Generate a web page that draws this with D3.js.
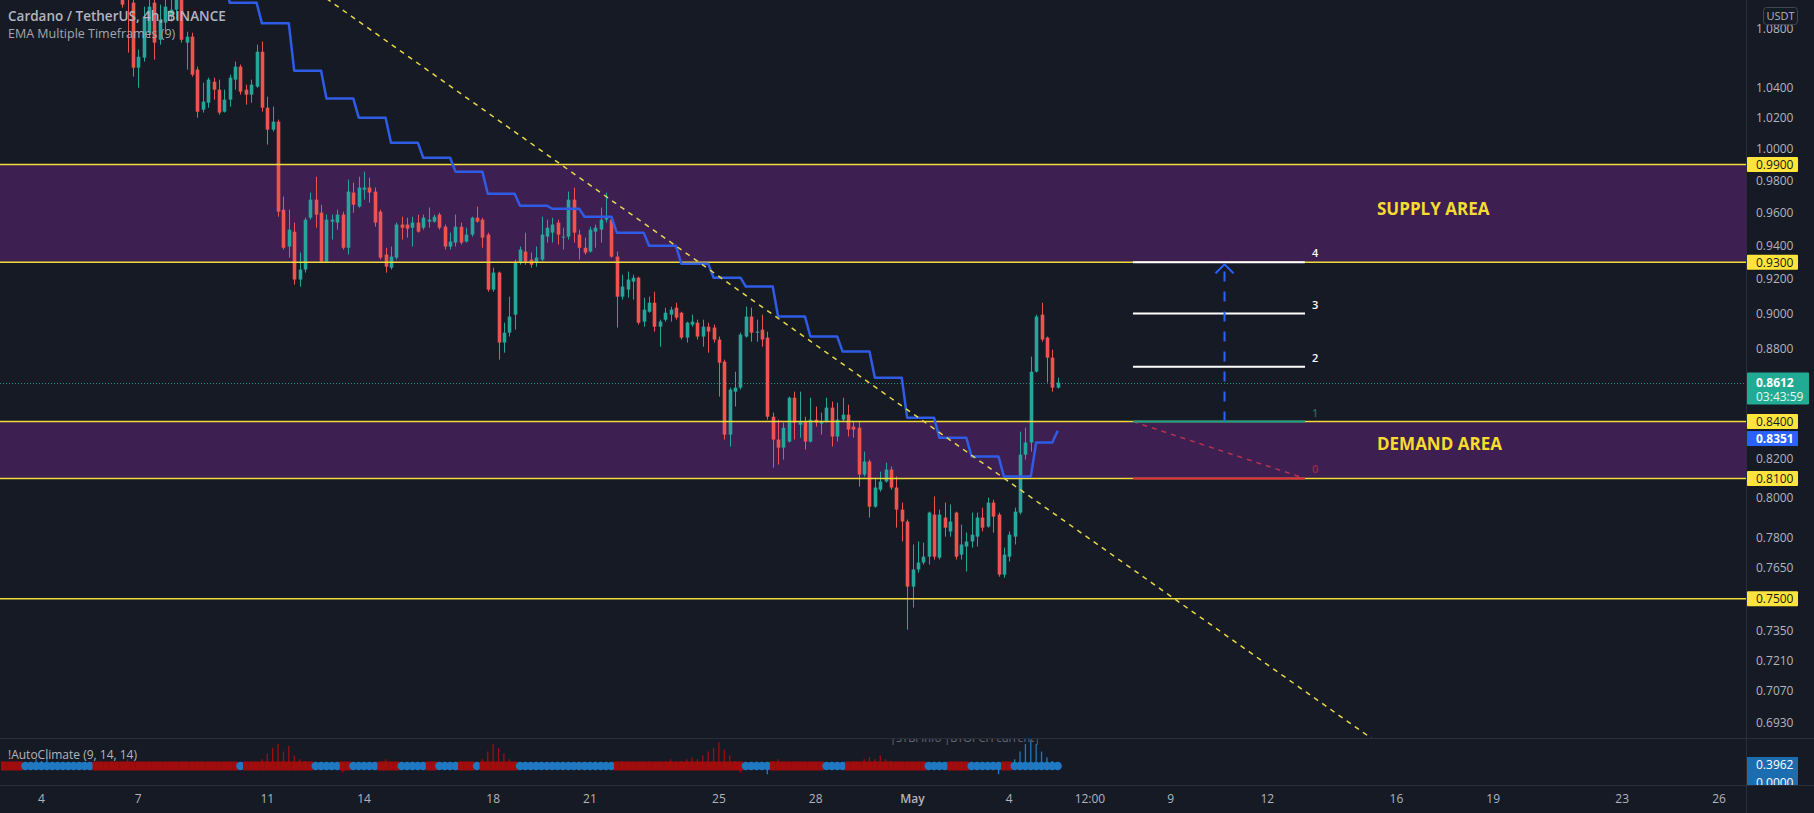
<!DOCTYPE html>
<html><head><meta charset="utf-8">
<script src="https://cdn.jsdelivr.net/npm/d3@7"></script>
<style>
html,body{margin:0;padding:0;background:#161a25;overflow:hidden}
svg{display:block}
text{font-family:"Open Sans",Roboto,sans-serif}
</style></head><body>
<svg id="chart" width="1814" height="813"></svg>
<script>
// ---------------- DATA ----------------
const candleStart = "2022-04-06T12:00:00Z";   // first visible 4h candle
const opens  = [1.1035,1.1142,1.0979,1.0532,1.0600,1.0770,1.0979,1.0722,1.0840,1.0881,1.0930,1.1000,1.0702,1.0743,1.0519,1.0253,1.0299,1.0438,1.0385,1.0240,1.0319,1.0452,1.0539,1.0385,1.0352,1.0405,1.0640,1.0266,1.0123,1.0175,0.9618,0.9394,0.9484,0.9198,0.9257,0.9569,0.9680,0.9600,0.9304,0.9545,0.9539,0.9588,0.9387,0.9724,0.9637,0.9742,0.9755,0.9730,0.9606,0.9346,0.9268,0.9328,0.9527,0.9527,0.9508,0.9539,0.9508,0.9545,0.9545,0.9588,0.9514,0.9394,0.9418,0.9514,0.9424,0.9466,0.9569,0.9557,0.9466,0.9139,0.9239,0.8835,0.8891,0.8994,0.9298,0.9364,0.9316,0.9298,0.9316,0.9454,0.9478,0.9539,0.9448,0.9454,0.9680,0.9466,0.9387,0.9364,0.9484,0.9496,0.9557,0.9557,0.9334,0.9098,0.9139,0.9186,0.9209,0.8954,0.9011,0.9063,0.8925,0.8965,0.8994,0.9034,0.9005,0.8863,0.8937,0.8948,0.8869,0.8925,0.8920,0.8852,0.8728,0.8330,0.8562,0.8584,0.8869,0.8983,0.8891,0.8908,0.8863,0.8426,0.8304,0.8261,0.8293,0.8529,0.8383,0.8399,0.8293,0.8410,0.8389,0.8399,0.8475,0.8320,0.8410,0.8437,0.8373,0.8367,0.8120,0.8188,0.7955,0.8042,0.8084,0.8146,0.8053,0.7940,0.7880,0.7559,0.7642,0.7676,0.7705,0.7915,0.7700,0.7900,0.7830,0.7925,0.7715,0.7755,0.7780,0.7804,0.7900,0.7854,0.7976,0.7915,0.7617,0.7705,0.7804,0.7925,0.8224,0.8288,0.8672,0.8994,0.8863,0.8750,0.8584];
const highs  = [1.1106,1.1213,1.1000,1.0654,1.0951,1.1000,1.1035,1.0965,1.1000,1.1071,1.1071,1.1035,1.0777,1.0770,1.0539,1.0432,1.0465,1.0465,1.0452,1.0385,1.0485,1.0573,1.0553,1.0418,1.0452,1.0688,1.0709,1.0339,1.0273,1.0188,0.9699,0.9618,0.9539,0.9358,0.9569,0.9724,0.9823,0.9649,0.9588,0.9588,0.9618,0.9606,0.9805,0.9786,0.9823,0.9855,0.9817,0.9755,0.9618,0.9387,0.9394,0.9539,0.9575,0.9569,0.9575,0.9588,0.9588,0.9631,0.9588,0.9600,0.9527,0.9478,0.9588,0.9539,0.9508,0.9575,0.9637,0.9569,0.9478,0.9268,0.9245,0.8948,0.9098,0.9316,0.9394,0.9478,0.9358,0.9394,0.9575,0.9557,0.9569,0.9557,0.9508,0.9730,0.9755,0.9496,0.9448,0.9514,0.9527,0.9631,0.9724,0.9575,0.9364,0.9227,0.9245,0.9227,0.9215,0.9092,0.9098,0.9127,0.8965,0.9034,0.9040,0.9063,0.9011,0.8954,0.8994,0.8965,0.8965,0.8948,0.8937,0.8869,0.8739,0.8584,0.8672,0.8891,0.9040,0.9034,0.8965,0.8994,0.8897,0.8448,0.8410,0.8394,0.8535,0.8562,0.8562,0.8426,0.8529,0.8481,0.8448,0.8529,0.8508,0.8502,0.8529,0.8491,0.8399,0.8399,0.8240,0.8198,0.8104,0.8135,0.8182,0.8162,0.8110,0.7976,0.7890,0.7765,0.7780,0.7775,0.7930,0.8007,0.7940,0.7976,0.7966,0.7930,0.7864,0.7825,0.7925,0.7925,0.7950,0.8001,0.7991,0.7925,0.7750,0.7830,0.7950,0.8346,0.8367,0.8756,0.8994,0.9063,0.8869,0.8795,0.8639];
const lows   = [1.0944,1.0634,1.0472,1.0398,1.0573,1.0736,1.0586,1.0688,1.0770,1.0847,1.0860,1.0702,1.0519,1.0472,1.0201,1.0234,1.0266,1.0319,1.0220,1.0234,1.0273,1.0385,1.0352,1.0286,1.0299,1.0398,1.0240,1.0027,1.0110,0.9575,0.9376,0.9328,0.9168,0.9157,0.9239,0.9557,0.9508,0.9298,0.9298,0.9436,0.9496,0.9376,0.9346,0.9600,0.9631,0.9680,0.9662,0.9514,0.9316,0.9239,0.9257,0.9316,0.9436,0.9448,0.9394,0.9478,0.9496,0.9508,0.9539,0.9496,0.9376,0.9376,0.9394,0.9406,0.9418,0.9454,0.9539,0.9387,0.9127,0.9127,0.8739,0.8778,0.8869,0.8908,0.9286,0.9286,0.9268,0.9274,0.9304,0.9418,0.9418,0.9406,0.9376,0.9436,0.9418,0.9316,0.9346,0.9358,0.9387,0.9418,0.9539,0.9328,0.8920,0.9081,0.9092,0.9081,0.8937,0.8925,0.9005,0.8897,0.8812,0.8954,0.8954,0.8965,0.8852,0.8835,0.8925,0.8852,0.8812,0.8778,0.8835,0.8535,0.8304,0.8267,0.8481,0.8573,0.8863,0.8840,0.8840,0.8812,0.8410,0.8156,0.8172,0.8198,0.8288,0.8304,0.8314,0.8251,0.8288,0.8373,0.8330,0.8394,0.8267,0.8293,0.8399,0.8320,0.8314,0.8058,0.8110,0.7900,0.7950,0.8032,0.8079,0.8042,0.7849,0.7780,0.7354,0.7458,0.7627,0.7666,0.7666,0.7691,0.7691,0.7804,0.7804,0.7691,0.7691,0.7632,0.7750,0.7755,0.7830,0.7849,0.7824,0.7607,0.7602,0.7681,0.7765,0.7915,0.8198,0.8240,0.8667,0.8840,0.8612,0.8562,0.8579];
const closes = [1.0965,1.1014,1.0532,1.0606,1.0881,1.0951,1.0702,1.0860,1.0951,1.0930,1.1021,1.0722,1.0743,1.0485,1.0240,1.0306,1.0452,1.0385,1.0234,1.0319,1.0465,1.0539,1.0372,1.0352,1.0418,1.0640,1.0266,1.0123,1.0175,0.9606,0.9387,0.9496,0.9198,0.9257,0.9557,0.9680,0.9588,0.9304,0.9557,0.9557,0.9588,0.9387,0.9730,0.9649,0.9755,0.9755,0.9724,0.9539,0.9328,0.9274,0.9334,0.9527,0.9508,0.9502,0.9539,0.9484,0.9569,0.9557,0.9575,0.9508,0.9394,0.9424,0.9514,0.9418,0.9466,0.9569,0.9545,0.9448,0.9139,0.9239,0.8835,0.8891,0.8983,0.9298,0.9376,0.9304,0.9286,0.9328,0.9466,0.9508,0.9527,0.9466,0.9454,0.9680,0.9478,0.9387,0.9358,0.9496,0.9508,0.9557,0.9569,0.9334,0.9098,0.9157,0.9198,0.9209,0.8948,0.9023,0.9063,0.8925,0.8954,0.9005,0.9023,0.8977,0.8863,0.8948,0.8954,0.8869,0.8925,0.8897,0.8852,0.8722,0.8330,0.8573,0.8584,0.8880,0.8983,0.8891,0.8897,0.8852,0.8426,0.8304,0.8261,0.8367,0.8529,0.8394,0.8399,0.8293,0.8410,0.8394,0.8399,0.8475,0.8320,0.8410,0.8437,0.8357,0.8357,0.8120,0.8188,0.7955,0.8053,0.8084,0.8146,0.8053,0.7940,0.7880,0.7559,0.7642,0.7676,0.7705,0.7925,0.7705,0.7915,0.7849,0.7880,0.7705,0.7765,0.7780,0.7814,0.7900,0.7849,0.7976,0.7905,0.7617,0.7715,0.7814,0.7930,0.8224,0.8288,0.8672,0.8983,0.8852,0.8750,0.8584,0.8612];

// EMA (daily, 9) stepped on the 4h chart: one value per day, first applies from candle #15
const emaFirstCandle = 14;
const emaDaily = [1.1177,1.0979,1.0835,1.0512,1.0326,1.0201,1.0039,0.9943,0.9855,0.9717,0.9643,0.9624,0.9575,0.9478,0.9399,0.9292,0.9209,0.9157,0.8983,0.8869,0.8784,0.8639,0.8421,0.8314,0.8214,0.8110,0.8288];
const emaLive = 0.8351;
const lastPrice = 0.8612;
const countdown = "03:43:59";

// horizontal levels and zones
const levelLines = [0.99, 0.93, 0.84, 0.81, 0.75];
const supplyZone = [0.93, 0.99];
const demandZone = [0.81, 0.84];

// trend line anchors
const trendTimes  = ["2022-04-14T00:00:00Z", "2022-05-12T00:00:00Z"];
const trendPrices = [1.0822, 0.7191];

// target projection drawing
const targetTimes  = ["2022-05-07T20:00:00Z", "2022-05-13T04:00:00Z"];
const arrowTime    = "2022-05-10T16:00:00Z";
const targetLevels = [0.81, 0.84, 0.87, 0.90, 0.93];
const targetLabels = ["0", "1", "2", "3", "4"];

// price axis ticks
const priceTicks = [1.08,1.04,1.02,1.00,0.98,0.96,0.94,0.92,0.90,0.88,0.82,0.80,0.78,0.765,0.735,0.721,0.707,0.693];

// time axis ticks
const timeTickDates  = ["2022-04-04","2022-04-07","2022-04-11","2022-04-14","2022-04-18","2022-04-21","2022-04-25","2022-04-28","2022-05-01","2022-05-04","2022-05-06T12:00","2022-05-09","2022-05-12","2022-05-16","2022-05-19","2022-05-23","2022-05-26"];
const timeTickLabels = ["4","7","11","14","18","21","25","28","May","4","12:00","9","12","16","19","23","26"];

// AutoClimate indicator
const climateStart = "2022-04-02T20:00:00Z";
const climateRuns = [["r",4],["b",13],["r",27],["b",1],["r",13],["b",5],["r",2],["b",5],["r",4],["b",5],["r",2],["b",4],["r",3],["b",1],["r",7],["b",18],["r",24],["b",5],["r",10],["b",4],["r",15],["b",4],["r",4],["b",6],["r",2],["b",9]];
const climateValues = [0.37,0.37,0.37,0.37,
 0.40,0.42,0.55,0.50,0.60,0.45,0.40,0.38,0.37,0.42,0.38,0.37,0.37,
 0.40,0.45,0.42,0.50,0.45,0.40,0.55,0.45,0.42,0.40,0.48,0.42,0.40,0.45,0.42,0.40,0.38,0.42,0.40,0.38,0.45,0.40,0.38,0.42,0.40,0.38,0.40,
 0.37,
 0.40,0.45,0.25,0.55,0.70,0.85,0.95,0.75,0.90,0.65,0.55,0.50,0.45,
 0.37,0.38,0.40,0.37,0.38,
 0.20,0.40,
 0.45,0.40,0.42,0.38,0.37,
 0.40,0.55,0.45,0.40,
 0.37,0.38,0.40,0.37,0.38,
 0.40,0.42,
 0.37,0.38,0.37,0.38,
 0.42,0.45,0.40,
 0.37,
 0.55,0.75,0.95,0.85,0.70,0.55,0.45,
 0.37,0.40,0.45,0.40,0.42,0.45,0.40,0.38,0.42,0.40,0.38,0.37,0.38,0.37,0.37,0.38,0.37,0.37,
 0.45,0.50,0.42,0.48,0.45,0.40,0.50,0.45,0.42,0.48,0.55,0.45,0.50,0.55,0.60,0.55,0.65,0.75,0.85,1.00,0.80,0.65,0.50,0.20,
 0.37,0.40,0.38,0.37,0.15,
 0.50,0.55,0.48,0.45,0.50,0.42,0.45,0.40,0.42,0.40,
 0.37,0.38,0.37,0.38,
 0.45,0.50,0.48,0.55,0.60,0.55,0.65,0.55,0.50,0.45,0.48,0.42,0.45,0.40,0.42,
 0.37,0.40,0.38,0.37,
 0.42,0.45,0.40,0.42,
 0.38,0.40,0.45,0.40,0.42,0.15,
 0.42,0.45,
 0.55,0.75,0.95,1.05,0.95,0.75,0.60,0.50,0.3962];
const climateBase = 0.37;

// ---------------- LAYOUT ----------------
const W = 1814, H = 813;
const plotR = 1746, mainB = 738, indB = 785;
const C = {bg:"#161a25", up:"#26a69a", down:"#ef5350", purple:"#3e1f52", yellow:"#f2dc3a",
           yellowLbl:"#ffe53b", axis:"#b2b5be", sep:"#2a2e39", ema:"#2f5ce6"};
const H4 = 4*3600*1000;

const svg = d3.select("#chart");
svg.append("rect").attr("width",W).attr("height",H).attr("fill",C.bg);

const defs = svg.append("defs");
defs.append("clipPath").attr("id","mainClip").append("rect").attr("x",0).attr("y",0).attr("width",plotR).attr("height",mainB);
defs.append("clipPath").attr("id","indClip").append("rect").attr("x",0).attr("y",mainB+1).attr("width",plotR).attr("height",indB-mainB-1);
defs.append("clipPath").attr("id","indAxisClip").append("rect").attr("x",plotR).attr("y",mainB+1).attr("width",W-plotR).attr("height",indB-mainB-1);

const x = d3.scaleTime()
  .domain([new Date("2022-04-04T00:00:00Z"), new Date("2022-05-26T00:00:00Z")])
  .range([41.5, 1719]);
const y = d3.scaleLog().domain([0.99, 0.693]).range([164.5, 722.5]);
const yi = d3.scaleLinear().domain([0, 0.3962]).range([780, 765]);

const t0 = new Date(candleStart).getTime();
const candles = opens.map((o,i)=>({t:new Date(t0+i*H4), o, h:highs[i], l:lows[i], c:closes[i]}));

const main = svg.append("g").attr("clip-path","url(#mainClip)");

// zones
[supplyZone, demandZone].forEach(z=>{
  main.append("rect").attr("x",0).attr("width",plotR)
    .attr("y",y(z[1])).attr("height",y(z[0])-y(z[1])).attr("fill",C.purple);
});

// current price dotted line
main.append("line").attr("x1",0).attr("x2",plotR).attr("y1",Math.round(y(lastPrice))+0.5).attr("y2",Math.round(y(lastPrice))+0.5)
  .attr("stroke",C.up).attr("stroke-width",1).attr("stroke-dasharray","1,2").attr("opacity",0.85);

// candles
const cg = main.append("g");
candles.forEach(d=>{
  const cx = Math.round(x(d.t))+0.5;
  const col = d.c >= d.o ? C.up : C.down;
  cg.append("line").attr("x1",cx).attr("x2",cx).attr("y1",y(d.h)).attr("y2",y(d.l)).attr("stroke",col).attr("stroke-width",1);
  const top = y(Math.max(d.o,d.c)), bot = y(Math.min(d.o,d.c));
  cg.append("rect").attr("x",cx-1.8).attr("width",3.6).attr("y",top).attr("height",Math.max(1,bot-top)).attr("fill",col);
});

// level lines
levelLines.forEach(v=>{
  main.append("line").attr("x1",0).attr("x2",plotR).attr("y1",y(v)).attr("y2",y(v))
    .attr("stroke",C.yellow).attr("stroke-width",1.5);
});

// EMA stepped line
const emaPts = [];
candles.forEach((d,i)=>{
  if(i < emaFirstCandle) return;
  let v;
  if(i === candles.length-1) v = emaLive;
  else { const g = Math.floor((i-emaFirstCandle)/6); v = emaDaily[Math.min(g, emaDaily.length-1)]; }
  emaPts.push([x(d.t), y(v)]);
});
main.append("path").attr("d", d3.line()(emaPts)).attr("fill","none")
  .attr("stroke",C.ema).attr("stroke-width",2.5).attr("stroke-linejoin","round");

// trend line (extended)
const tA = [x(new Date(trendTimes[0])), y(trendPrices[0])];
const tB = [x(new Date(trendTimes[1])), y(trendPrices[1])];
const slope = (tB[1]-tA[1])/(tB[0]-tA[0]);
main.append("line").attr("x1",0).attr("y1",tA[1]+(0-tA[0])*slope)
  .attr("x2",plotR).attr("y2",tA[1]+(plotR-tA[0])*slope)
  .attr("stroke","#e6d74a").attr("stroke-width",1.5).attr("stroke-dasharray","5,5");

// target projection
const xL = x(new Date(targetTimes[0])), xR = x(new Date(targetTimes[1])), xA = Math.round(x(new Date(arrowTime)))+0.5;
main.append("line").attr("x1",xL).attr("y1",y(targetLevels[1])).attr("x2",xR).attr("y2",y(targetLevels[0]))
  .attr("stroke","#b8324f").attr("stroke-width",1.5).attr("stroke-dasharray","5,5");
const tColors = ["#e0333f","#18a08a","#ffffff","#ffffff","#ffffff"];
const tLblColors = ["#9c2a48","#146e62","#ffffff","#ffffff","#ffffff"];
targetLevels.forEach((v,i)=>{
  main.append("line").attr("x1",xL).attr("x2",xR).attr("y1",y(v)).attr("y2",y(v))
    .attr("stroke",tColors[i]).attr("stroke-width",2);
  main.append("text").attr("x",xR+7).attr("y",y(v)-5).text(targetLabels[i])
    .attr("fill",tLblColors[i]).attr("font-size",11).attr("font-weight",600);
});
main.append("line").attr("x1",xA).attr("x2",xA).attr("y1",y(targetLevels[1])).attr("y2",y(targetLevels[4])+4)
  .attr("stroke","#2962ff").attr("stroke-width",2).attr("stroke-dasharray","10,10");
const ay = y(targetLevels[4]);
main.append("path").attr("d",`M${xA-9},${ay+11} L${xA},${ay+2} L${xA+9},${ay+11}`)
  .attr("fill","none").attr("stroke","#2962ff").attr("stroke-width",2);

// zone labels
main.append("text").attr("x",1377).attr("y",(y(supplyZone[0])+y(supplyZone[1]))/2+2).text("SUPPLY AREA")
  .attr("fill","#f5dc2e").attr("font-size",17).attr("font-weight",700);
main.append("text").attr("x",1377).attr("y",(y(demandZone[0])+y(demandZone[1]))/2).text("DEMAND AREA")
  .attr("fill","#f5dc2e").attr("font-size",17).attr("font-weight",700);

// legend
svg.append("text").attr("x",8).attr("y",21).text("Cardano / TetherUS, 4h, BINANCE")
  .attr("fill","#b2b5be").attr("font-size",13.5).attr("font-weight",600);
svg.append("text").attr("x",8).attr("y",38).text("EMA Multiple Timeframes (9)")
  .attr("fill","#a3a6af").attr("font-size",12.5);

// ---------------- INDICATOR PANE ----------------
const ind = svg.append("g").attr("clip-path","url(#indClip)");
const ci0 = new Date(climateStart).getTime();
const states = [];
climateRuns.forEach(r=>{ for(let k=0;k<r[1];k++) states.push(r[0]); });
const red = "#a10d0d", blue = "#1f78c1";
climateValues.forEach((v,j)=>{
  const cx = x(new Date(ci0+j*H4));
  const col = states[j]==="r" ? red : blue;
  ind.append("line").attr("x1",cx).attr("x2",cx).attr("y1",yi(climateBase)).attr("y2",yi(v))
    .attr("stroke",col).attr("stroke-width",1.3);
});
climateValues.forEach((v,j)=>{
  const cx = x(new Date(ci0+j*H4));
  if(states[j]==="r"){
    ind.append("rect").attr("x",cx-2.8).attr("width",5.6).attr("y",yi(climateBase)-4.5).attr("height",9).attr("fill",red);
  } else {
    ind.append("circle").attr("cx",cx).attr("cy",yi(climateBase)).attr("r",4.2).attr("fill",blue);
  }
});
ind.append("text").attr("x",8).attr("y",759).text("!AutoClimate (9, 14, 14)").attr("fill","#b2b5be").attr("font-size",12);
ind.append("text").attr("x",890).attr("y",742).text("|STBI Info   |BTOPCH   current|").attr("fill","#6a6d78").attr("font-size",11);

// ---------------- SEPARATORS ----------------
svg.append("line").attr("x1",plotR+0.5).attr("x2",plotR+0.5).attr("y1",0).attr("y2",H).attr("stroke",C.sep);
svg.append("line").attr("x1",0).attr("x2",W).attr("y1",mainB+0.5).attr("y2",mainB+0.5).attr("stroke",C.sep);
svg.append("line").attr("x1",0).attr("x2",W).attr("y1",indB+0.5).attr("y2",indB+0.5).attr("stroke",C.sep);

// ---------------- PRICE AXIS ----------------
const ax = svg.append("g");
priceTicks.forEach(v=>{
  ax.append("text").attr("x",1756).attr("y",y(v)).attr("dy","0.35em").text(v.toFixed(4))
    .attr("fill",C.axis).attr("font-size",12);
});
levelLines.forEach(v=>{
  ax.append("rect").attr("x",plotR+1).attr("y",y(v)-7.5).attr("width",51).attr("height",15).attr("rx",1).attr("fill",C.yellowLbl);
  ax.append("text").attr("x",1756).attr("y",y(v)).attr("dy","0.35em").text(v.toFixed(4)).attr("fill","#131722").attr("font-size",12);
});
// EMA label (pushed below the neighbouring level label so they do not overlap)
let emaLblY = y(emaLive);
levelLines.forEach(v=>{ const ly = y(v); if (Math.abs(emaLblY-ly) < 16) emaLblY = ly + 17; });
ax.append("rect").attr("x",plotR+1).attr("y",emaLblY-7.5).attr("width",51).attr("height",15).attr("fill","#2962ff");
ax.append("text").attr("x",1756).attr("y",emaLblY).attr("dy","0.35em").text(emaLive.toFixed(4)).attr("fill","#ffffff").attr("font-size",12).attr("font-weight",700);
// last price label
const lpY = y(lastPrice);
ax.append("rect").attr("x",plotR+1).attr("y",lpY-10).attr("width",62).attr("height",32).attr("rx",1).attr("fill","#22ab94");
ax.append("text").attr("x",1756).attr("y",lpY).attr("dy","0.35em").text(lastPrice.toFixed(4)).attr("fill","#ffffff").attr("font-size",12).attr("font-weight",700);
ax.append("text").attr("x",1756).attr("y",lpY+14).attr("dy","0.35em").text(countdown).attr("fill","#e9f6f3").attr("font-size",12);
// USDT box (drawn over the partly hidden top tick, as in TradingView)
ax.append("rect").attr("x",1763.5).attr("y",7.5).attr("width",34).attr("height",17).attr("rx",3).attr("fill",C.bg).attr("stroke","#434651");
ax.append("text").attr("x",1780.5).attr("y",16).attr("dy","0.35em").attr("text-anchor","middle").text("USDT").attr("fill",C.axis).attr("font-size",11);

// indicator axis labels
const iax = svg.append("g").attr("clip-path","url(#indAxisClip)");
iax.append("rect").attr("x",plotR+1).attr("y",yi(0.3962)-8).attr("width",51).attr("height",32).attr("fill","#1c6cb0");
iax.append("text").attr("x",1756).attr("y",yi(0.3962)).attr("dy","0.35em").text("0.3962").attr("fill","#ffffff").attr("font-size",12);
iax.append("text").attr("x",1756).attr("y",yi(0)+3).attr("dy","0.35em").text("0.0000").attr("fill","#ffffff").attr("font-size",12);

// ---------------- TIME AXIS ----------------
timeTickDates.forEach((d,i)=>{
  const dt = new Date(d.length>10 ? d+":00Z" : d+"T00:00:00Z");
  svg.append("text").attr("x",x(dt)).attr("y",799).attr("dy","0.35em").attr("text-anchor","middle")
    .text(timeTickLabels[i]).attr("fill",C.axis).attr("font-size",12)
    .attr("font-weight", timeTickLabels[i]==="May" ? 600 : 400);
});
</script>
</body></html>
